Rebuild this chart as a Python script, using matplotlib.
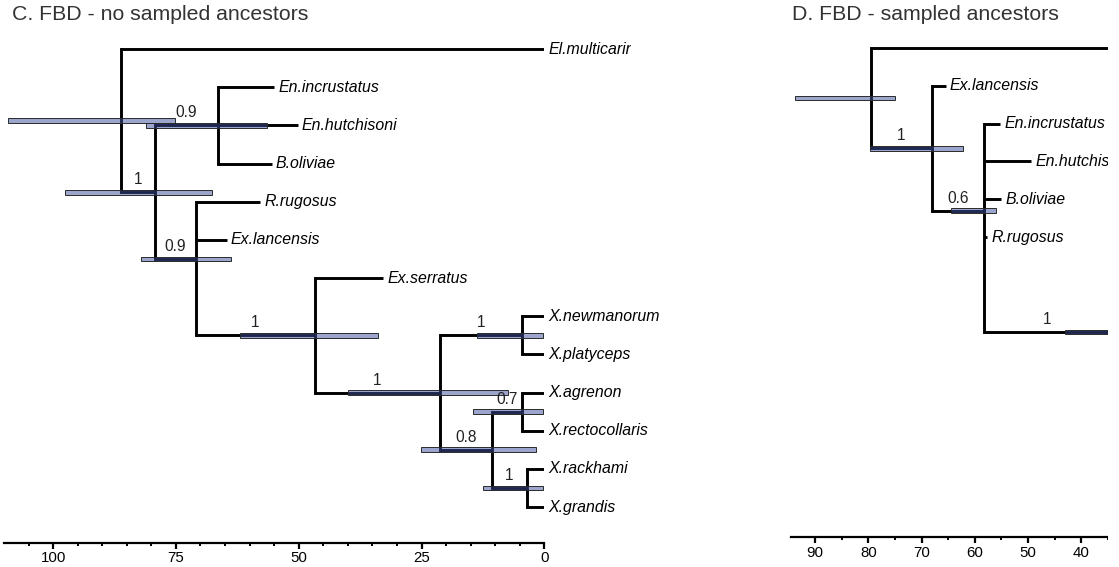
import numpy as np
import matplotlib
matplotlib.use("Agg")
import matplotlib.pyplot as plt
from matplotlib.patches import Rectangle
from matplotlib.transforms import Bbox, TransformedBbox

plt.rcParams["font.family"] = ["Liberation Sans", "DejaVu Sans"]

# ---- Panel C: FBD without sampled ancestors (ages in Ma) ----
C_TIPS = ["El.multicarinatus", "En.incrustatus", "En.hutchisoni", "B.oliviae",
          "R.rugosus", "Ex.lancensis", "Ex.serratus", "X.newmanorum",
          "X.platyceps", "X.agrenon", "X.rectocollaris", "X.rackhami", "X.grandis"]
C_TIP_AGES = [0.0, 55.0, 50.2, 55.5, 57.9, 64.7, 32.8, 0.0, 0.0, 0.0, 0.0, 0.0, 0.0]
C_NODES = ["nEn", "nXnp", "nXar", "nXrg", "nX2", "nX", "nC", "nB", "nA", "root"]
C_CHILDREN = [["En.incrustatus", "En.hutchisoni", "B.oliviae"],
              ["X.newmanorum", "X.platyceps"],
              ["X.agrenon", "X.rectocollaris"],
              ["X.rackhami", "X.grandis"],
              ["nXar", "nXrg"],
              ["nXnp", "nX2"],
              ["Ex.serratus", "nX"],
              ["R.rugosus", "Ex.lancensis", "nC"],
              ["nEn", "nB"],
              ["El.multicarinatus", "nA"]]
C_NODE_AGES = [66.4, 4.6, 4.6, 3.6, 10.6, 21.2, 46.7, 71.0, 79.3, 86.1]
C_HPD_OLD = [81.0, 13.8, 14.5, 12.4, 25.2, 39.9, 62.0, 82.1, 97.6, 109.2]
C_HPD_YOUNG = [56.5, 0.3, 0.2, 0.2, 1.75, 7.3, 33.8, 63.8, 67.7, 75.1]
C_POSTERIOR = ["0.9", "1", "0.7", "1", "0.8", "1", "1", "0.9", "1", ""]

# ---- Panel D: FBD with sampled ancestors ----
D_TIPS = ["El.multicarinatus", "Ex.lancensis", "En.incrustatus", "En.hutchisoni",
          "B.oliviae", "R.rugosus", "Ex.serratus", "X.newmanorum",
          "X.platyceps", "X.agrenon", "X.rectocollaris", "X.rackhami", "X.grandis"]
D_TIP_AGES = [0.0, 65.5, 55.2, 49.4, 55.0, 57.7, 30.0, 0.0, 0.0, 0.0, 0.0, 0.0, 0.0]
D_NODES = ["nXnp", "nXar", "nXrg", "nX2", "nX", "nC", "nEn", "nB", "root"]
D_CHILDREN = [["X.newmanorum", "X.platyceps"],
              ["X.agrenon", "X.rectocollaris"],
              ["X.rackhami", "X.grandis"],
              ["nXar", "nXrg"],
              ["nXnp", "nX2"],
              ["Ex.serratus", "nX"],
              ["En.incrustatus", "En.hutchisoni", "B.oliviae", "R.rugosus", "nC"],
              ["Ex.lancensis", "nEn"],
              ["El.multicarinatus", "nB"]]
D_NODE_AGES = [4.6, 4.6, 3.6, 10.6, 21.0, 34.7, 58.2, 68.1, 79.4]
D_HPD_OLD = [13.8, 14.5, 12.4, 25.0, 33.0, 43.0, 64.5, 79.6, 93.7]
D_HPD_YOUNG = [0.3, 0.2, 0.2, 1.7, 7.0, 27.0, 56.0, 62.2, 75.0]
D_POSTERIOR = ["1", "0.7", "1", "0.8", "1", "1", "0.6", "1", ""]

W, H = 1119, 567
BAR_FACE = (0.22, 0.30, 0.62, 0.5)


def draw_tree(ax, tips, tip_ages, nodes, children, node_ages, hpd_old, hpd_young,
              posterior, clip_tips=(), label_clip=None, min_age=None):
    age = dict(zip(tips, tip_ages))
    ypos = {t: i for i, t in enumerate(tips)}
    parent = {}
    for n, kids, a in zip(nodes, children, node_ages):
        age[n] = a
        ypos[n] = np.mean([ypos[k] for k in kids])
        for k in kids:
            parent[k] = n

    for n, kids in zip(nodes, children):
        ys = [ypos[k] for k in kids]
        ax.plot([age[n], age[n]], [min(ys), max(ys)], color="black", lw=2.1,
                solid_capstyle="projecting", zorder=2)
        for k in kids:
            ax.plot([age[n], age[k]], [ypos[k], ypos[k]], color="black", lw=2.1,
                    solid_capstyle="butt", zorder=2)

    ys = [ypos[n] for n in nodes]
    ax.barh(ys, np.array(hpd_old) - np.array(hpd_young), left=hpd_young, height=0.125,
            facecolor=BAR_FACE, edgecolor="#2a2a2a", lw=0.7, zorder=3)

    for n, lab in zip(nodes, posterior):
        if not lab:
            continue
        xm = (age[parent[n]] + age[n]) / 2
        if min_age is not None and xm < min_age:
            continue
        ax.annotate(lab, (xm, ypos[n]), xytext=(0, 3.5), textcoords="offset points",
                    ha="center", va="bottom", fontsize=11.2, color="#222222",
                    zorder=4, annotation_clip=False)

    for t in tips:
        if min_age is not None and age[t] < min_age:
            continue  # tip lies beyond the cropped edge
        txt = ax.annotate(t, (age[t], ypos[t]), xytext=(3, 0), textcoords="offset points",
                          ha="left", va="center", fontsize=11.4, style="italic",
                          color="black", zorder=4, annotation_clip=False)
        if t in clip_tips:
            txt.set_clip_on(True)
            txt.set_clip_box(label_clip)


def style_axis(ax, major, minor):
    for side in ["top", "left", "right"]:
        ax.spines[side].set_visible(False)
    ax.spines["bottom"].set_linewidth(1.6)
    ax.set_yticks([])
    ax.set_xticks(major)
    ax.set_xticks(minor, minor=True)
    ax.tick_params(axis="x", which="major", direction="out", length=4, width=1.6,
                   labelsize=10.8, pad=2)
    ax.tick_params(axis="x", which="minor", direction="out", length=2, width=1.4)


fig = plt.figure(figsize=(W / 100, H / 100), dpi=100)

# Panel C
axC = fig.add_axes([4 / W, (H - 542.7) / H, 540.3 / W, (542.7 - 30) / H])
clipC = TransformedBbox(Bbox.from_extents(0, 0, 631 / W, 1), fig.transFigure)
draw_tree(axC, C_TIPS, C_TIP_AGES, C_NODES, C_CHILDREN, C_NODE_AGES,
          C_HPD_OLD, C_HPD_YOUNG, C_POSTERIOR,
          clip_tips=["El.multicarinatus"], label_clip=clipC)
axC.set_xlim(110, 0)
axC.set_ylim(12.935, -0.498)
style_axis(axC, [100, 75, 50, 25, 0], np.arange(5, 110, 5))

# Panel D (cut at the right edge, as in the source figure)
d_right = 94.5 - 317 / 5.667
axD = fig.add_axes([791 / W, (H - 537.3) / H, 317 / W, (537.3 - 30) / H])
clipD = TransformedBbox(Bbox.from_extents(0, 0, 1108 / W, 1), fig.transFigure)
draw_tree(axD, D_TIPS, D_TIP_AGES, D_NODES, D_CHILDREN, D_NODE_AGES,
          D_HPD_OLD, D_HPD_YOUNG, D_POSTERIOR, clip_tips=D_TIPS, label_clip=clipD,
          min_age=d_right)
axD.set_xlim(94.5, d_right)
axD.set_ylim(12.918, -0.467)
style_axis(axD, [90, 80, 70, 60, 50, 40], np.arange(35, 95, 5))

fig.text(12 / W, 1 - 5 / H, "C. FBD - no sampled ancestors", ha="left", va="top",
         fontsize=15.3, color="#333333")
fig.text(792 / W, 1 - 5 / H, "D. FBD - sampled ancestors", ha="left", va="top",
         fontsize=15.3, color="#333333")

# white strip where the source image was cropped
fig.patches.append(Rectangle((1108 / W, 0), 11 / W, 1, transform=fig.transFigure,
                             facecolor="white", edgecolor="none", zorder=10))

fig.savefig("out.png", dpi=100)
